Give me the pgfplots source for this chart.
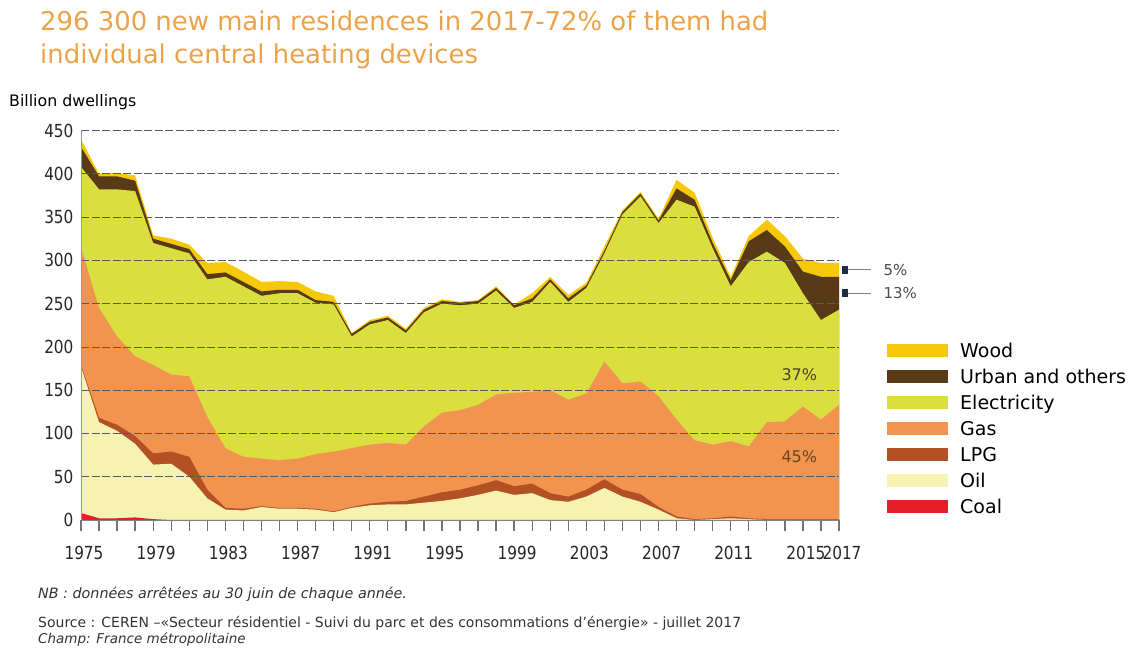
\documentclass[border=0pt]{standalone}
\usepackage{fontspec}
\setmainfont{DejaVu Sans}
\newfontfamily\narrowfont[FakeStretch=0.85]{DejaVu Sans}
\usepackage{pgfplots}
\usepackage{pgfplotstable}
\pgfplotsset{compat=1.18}
\definecolor{cWood}{RGB}{246,200,10}
\definecolor{cUrban}{RGB}{88,58,22}
\definecolor{cElec}{RGB}{218,222,62}
\definecolor{cGas}{RGB}{240,148,80}
\definecolor{cLPG}{RGB}{178,82,36}
\definecolor{cOil}{RGB}{246,242,178}
\definecolor{cCoal}{RGB}{230,32,40}
\definecolor{cTitle}{RGB}{236,162,72}
\definecolor{cGrid}{RGB}{90,90,90}
\definecolor{cYaxis}{RGB}{140,155,185}
\definecolor{cMark}{RGB}{30,45,70}

% cumulative tops of the stacked layers (billion dwellings)
\pgfplotstableread{
year C O L G E U W
1975 8 177 179 315 408 431 440
1976 2 113 118 245 382 397 400
1977 2 103 110 212 382 397 401
1978 3 88 97 189 380 392 398
1979 1 64 77 179 320 325 329
1980 0 65 79 168 314 319 325
1981 0 50 73 166 308 313 318
1982 0 25 35 119 278 284 297
1983 0 12 14 83 281 286 298
1984 0 11 13 73 270 275 287
1985 0 15 16 71 259 264 275
1986 0 13 14 69 262 266 276
1987 0 13 14 71 262 266 275
1988 0 12 13 76 251 254 264
1989 0 9 10 79 249 252 259
1990 0 14 15 83 212 215 216
1991 0 17 19 87 226 229 231
1992 0 18 21 89 231 234 236
1993 0 18 22 87 216 219 221
1994 0 20 27 108 240 243 245
1995 0 22 32 124 250 253 255
1996 0 25 35 127 248 251 252
1997 0 29 40 133 250 253 254
1998 0 34 46 145 265 268 270
1999 0 29 39 147 245 248 249
2000 0 31 42 148 252 256 262
2001 0 23 31 150 275 278 281
2002 0 21 27 139 252 256 260
2003 0 27 35 146 268 271 274
2004 0 37 47 183 308 311 316
2005 0 27 35 158 353 356 358
2006 0 21 30 160 374 377 379
2007 0 12 15 143 343 346 348
2008 0 2 4 116 370 383 393
2009 0 0 1 92 362 370 378
2010 0 1 2 87 314 320 326
2011 0 2 4 91 270 277 281
2012 0 1 2 85 298 322 328
2013 0 0 1 113 310 335 347
2014 0 0 1 114 297 316 328
2015 0 0 1 131 262 287 302
2016 0 0 1 116 231 281 297
2017 0 0 1 133 243 281 297
}\datatable

\begin{document}
\begin{tikzpicture}
\useasboundingbox (0pt,0pt) rectangle (1131pt,655pt);
% titles
\node[anchor=base west, inner sep=0pt, text=cTitle, font=\fontsize{25.9}{30}\selectfont] at (40pt,624pt) {296 300 new main residences in 2017-72\% of them had};
\node[anchor=base west, inner sep=0pt, text=cTitle, font=\fontsize{25.9}{30}\selectfont] at (40pt,591pt) {individual central heating devices};
\node[anchor=base west, inner sep=0pt, font=\fontsize{15.8}{18}\selectfont] at (9pt,548pt) {Billion dwellings};

\begin{axis}[
  at={(81pt,135pt)}, anchor=south west,
  scale only axis, width=758pt, height=389.5pt,
  xmin=1975, xmax=2017, ymin=0, ymax=450,
  axis x line*=bottom, axis y line*=left,
  x axis line style={draw=gray, line width=0.8pt},
  y axis line style={draw=cYaxis, line width=1pt},
  axis on top, clip=false,
  ytick={0,50,...,450},
  ymajorgrids,
  grid style={draw=cGrid, line width=0.7pt, dash pattern=on 8pt off 2.5pt},
  xtick={1975,1979,...,2015,2017},
  xticklabels={1975,1979,1983,1987,1991,1995,1999,2003,2007,2011,2015,2017},
  major tick length=0pt,
  every x tick/.style={draw=none},
  every y tick/.style={draw=none},
  /pgf/number format/assume math mode=true,
  tick label style={font=\narrowfont\fontsize{18}{20}\selectfont, text=black!85},
  xticklabel style={yshift=-23pt, xshift=3pt},
  yticklabel style={xshift=-4pt},
  legend style={at={(1.0594,0.458)}, anchor=north west, draw=none, fill=none,
    font=\fontsize{19}{22}\selectfont, row sep=7pt,
    nodes={inner sep=0pt, text height=14pt, text depth=5pt}},
  legend cell align=left,
  legend image code/.code={\path[#1] (0pt,-3.5pt) rectangle (61pt,9.5pt); \path (73pt,0pt);},
]
\addplot[fill=cWood, draw=none] table[x=year,y=W] {\datatable} \closedcycle;
\addlegendentry{Wood}
\addplot[fill=cUrban, draw=none] table[x=year,y=U] {\datatable} \closedcycle;
\addlegendentry{Urban and others}
\addplot[fill=cElec, draw=none] table[x=year,y=E] {\datatable} \closedcycle;
\addlegendentry{Electricity}
\addplot[fill=cGas, draw=none] table[x=year,y=G] {\datatable} \closedcycle;
\addlegendentry{Gas}
\addplot[fill=cLPG, draw=none] table[x=year,y=L] {\datatable} \closedcycle;
\addlegendentry{LPG}
\addplot[fill=cOil, draw=none] table[x=year,y=O] {\datatable} \closedcycle;
\addlegendentry{Oil}
\addplot[fill=cCoal, draw=none] table[x=year,y=C] {\datatable} \closedcycle;
\addlegendentry{Coal}

% yearly tick marks below the x axis
\pgfplotsinvokeforeach{1975,1976,...,2017}{
  \draw[black!55, line width=1.3pt] (axis cs:#1,0) -- ([yshift=-11pt]axis cs:#1,0);
}

% share annotations
\draw[gray, line width=1pt] ([xshift=8pt]axis cs:2017,289) -- ([xshift=32pt]axis cs:2017,289);
\fill[cMark] ([xshift=3pt,yshift=-4pt]axis cs:2017,289) rectangle ([xshift=9pt,yshift=4pt]axis cs:2017,289);
\node[anchor=west, font=\fontsize{15}{18}\selectfont, text=black!70] at ([xshift=41pt]axis cs:2017,289) {5\%};
\draw[gray, line width=1pt] ([xshift=8pt]axis cs:2017,262) -- ([xshift=32pt]axis cs:2017,262);
\fill[cMark] ([xshift=3pt,yshift=-4pt]axis cs:2017,262) rectangle ([xshift=9pt,yshift=4pt]axis cs:2017,262);
\node[anchor=west, font=\fontsize{15}{18}\selectfont, text=black!70] at ([xshift=41pt]axis cs:2017,262) {13\%};
\node[font=\fontsize{16}{18}\selectfont, text=black!65!olive] at (axis cs:2014.8,168) {37\%};
\node[font=\fontsize{16}{18}\selectfont, text=black!45!brown] at (axis cs:2014.8,73) {45\%};
\end{axis}

% footnotes
\node[anchor=base west, inner sep=0pt, font=\fontsize{14.3}{16}\selectfont\itshape, text=black!80] at (38pt,56pt) {NB : données arrêtées au 30 juin de chaque année.};
\node[anchor=base west, inner sep=0pt, font=\fontsize{14}{16}\selectfont, text=black!80] at (38pt,27pt) {Source : CEREN –«Secteur résidentiel - Suivi du parc et des consommations d'énergie» - juillet 2017};
\node[anchor=base west, inner sep=0pt, font=\fontsize{13.5}{16}\selectfont\itshape, text=black!80] at (38pt,11pt) {Champ: France métropolitaine};
\end{tikzpicture}
\end{document}
